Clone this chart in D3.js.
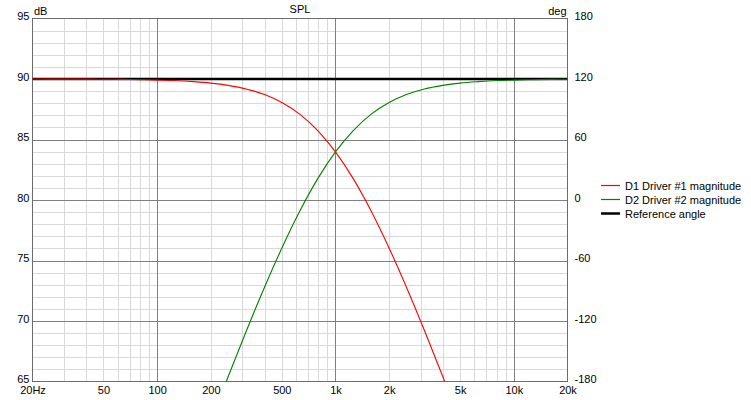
<!DOCTYPE html>
<html><head><meta charset="utf-8">
<script src="https://cdn.jsdelivr.net/npm/d3@7"></script>
<style>
body{margin:0;background:#fff;}
text{font-family:"Liberation Sans",Arial,sans-serif;font-size:11px;fill:#000;}
</style></head>
<body><svg id="c" width="751" height="400"></svg>
<script>
// Data
const freqs = [20,25,31.5,40,50,63,80,100,125,160,200,250,315,400,500,630,800,1000,1250,1600,2000,2500,3150,4000,5000,6300,8000,10000,12500,16000,20000];
const d1Mag = [90.0,89.99,89.99,89.99,89.98,89.97,89.94,89.91,89.87,89.78,89.66,89.47,89.18,88.71,88.06,87.10,85.70,83.98,81.83,78.97,76.02,72.79,69.23,65.39,61.70,null,null,null,null,null,null];
const d2Mag = [null,null,null,null,null,null,null,null,null,null,61.70,65.39,69.11,72.79,76.02,79.07,81.83,83.98,85.70,87.14,88.06,88.71,89.17,89.47,89.66,89.78,89.87,89.91,89.94,89.97,89.98];
const refAngleFreqs = [20,20000];
const refAngle = [120,120];
const xTicks = [20,50,100,200,500,1000,2000,5000,10000,20000];
const xTickLabels = ["20Hz","50","100","200","500","1k","2k","5k","10k","20k"];
const yTicks = [65,70,75,80,85,90,95];
const y2Ticks = [-180,-120,-60,0,60,120,180];
const legendLabels = ["D1 Driver #1 magnitude","D2 Driver #2 magnitude","Reference angle"];
const colors = ["#ff0000","#008000","#000000"];

const L=32.5,R=567.5,T=18.5,B=381.5;
const svg=d3.select("#c");
const x=d3.scaleLog().domain([20,20000]).range([L,R]);
const y=d3.scaleLinear().domain([65,95]).range([B,T]);
const y2=d3.scaleLinear().domain([-180,180]).range([B,T]);

// minor vertical grid
const minorF=[];
[10,100,1000,10000].forEach(d=>{for(let k=1;k<=9;k++){const f=d*k;if(f>20&&f<20000)minorF.push(f);}});
const g=svg.append("g");
g.selectAll(".vm").data(minorF.filter(f=>![100,1000,10000].includes(f))).join("line")
 .attr("x1",d=>Math.round(x(d))+0.5).attr("x2",d=>Math.round(x(d))+0.5).attr("y1",T).attr("y2",B)
 .attr("stroke","#d9d9d9").attr("stroke-width",1);
const minorY=d3.range(66,95).filter(v=>v%5!==0);
g.selectAll(".hm").data(minorY).join("line")
 .attr("x1",L).attr("x2",R).attr("y1",d=>Math.round(y(d))+0.5).attr("y2",d=>Math.round(y(d))+0.5)
 .attr("stroke","#d9d9d9").attr("stroke-width",1);
// major
g.selectAll(".vM").data([100,1000,10000]).join("line")
 .attr("x1",d=>Math.round(x(d))+0.5).attr("x2",d=>Math.round(x(d))+0.5).attr("y1",T).attr("y2",B)
 .attr("stroke","#808080").attr("stroke-width",1);
g.selectAll(".hM").data([70,75,80,85,90]).join("line")
 .attr("x1",L).attr("x2",R).attr("y1",d=>Math.round(y(d))+0.5).attr("y2",d=>Math.round(y(d))+0.5)
 .attr("stroke","#808080").attr("stroke-width",1);
// frame
svg.append("rect").attr("x",L).attr("y",T).attr("width",R-L).attr("height",B-T)
 .attr("fill","none").attr("stroke","#6b6b6b").attr("stroke-width",1);

// axes (labels only)
const axL=svg.append("g").attr("transform",`translate(${L-2},0)`).call(d3.axisLeft(y).tickValues(yTicks).tickSize(0).tickPadding(1));
const axR=svg.append("g").attr("transform",`translate(${R+6},0)`).call(d3.axisRight(y2).tickValues(y2Ticks).tickFormat(d=>String(d)).tickSize(0).tickPadding(1));
const axB=svg.append("g").attr("transform",`translate(0,${B+3})`).call(d3.axisBottom(x).tickValues(xTicks).tickFormat((d,i)=>xTickLabels[i]).tickSize(0).tickPadding(2));
[axL,axR,axB].forEach(a=>{a.select(".domain").remove();a.selectAll("text").attr("fill","#000").style("font-family","Liberation Sans, Arial, sans-serif").style("font-size","11px");});
axL.selectAll("text").attr("dy","0.12em");
axR.selectAll("text").attr("dy","0.12em");

svg.append("text").attr("x",34).attr("y",15).text("dB");
svg.append("text").attr("x",R-1).attr("y",15).attr("text-anchor","end").text("deg");
svg.append("text").attr("x",(L+R)/2).attr("y",13).attr("text-anchor","middle").text("SPL");

// curves
svg.append("clipPath").attr("id","cp").append("rect").attr("x",L).attr("y",T).attr("width",R-L).attr("height",B-T);
const pg=svg.append("g").attr("clip-path","url(#cp)");
const mk=(vals,ys)=>d3.line().defined(d=>d[1]!=null).x(d=>x(d[0])).y(d=>ys(d[1])).curve(d3.curveMonotoneX)(freqs.map((f,i)=>[f,vals[i]]));
pg.append("path").attr("d",d3.line().x((d,i)=>x(refAngleFreqs[i])).y(d=>y2(d))(refAngle))
 .attr("fill","none").attr("stroke",colors[2]).attr("stroke-width",2.5);
pg.append("path").attr("d",mk(d1Mag,y)).attr("fill","none").attr("stroke",colors[0]).attr("stroke-width",1.1);
pg.append("path").attr("d",mk(d2Mag,y)).attr("fill","none").attr("stroke",colors[1]).attr("stroke-width",1.1);

// legend
const lg=svg.append("g");
legendLabels.forEach((t,i)=>{
  const yy=185.5+i*14;
  lg.append("line").attr("x1",601).attr("x2",620).attr("y1",yy).attr("y2",yy).attr("stroke",colors[i]).attr("stroke-width",i===2?2.5:1.2);
  lg.append("text").attr("x",625).attr("y",yy+4).text(t);
});
</script></body></html>
